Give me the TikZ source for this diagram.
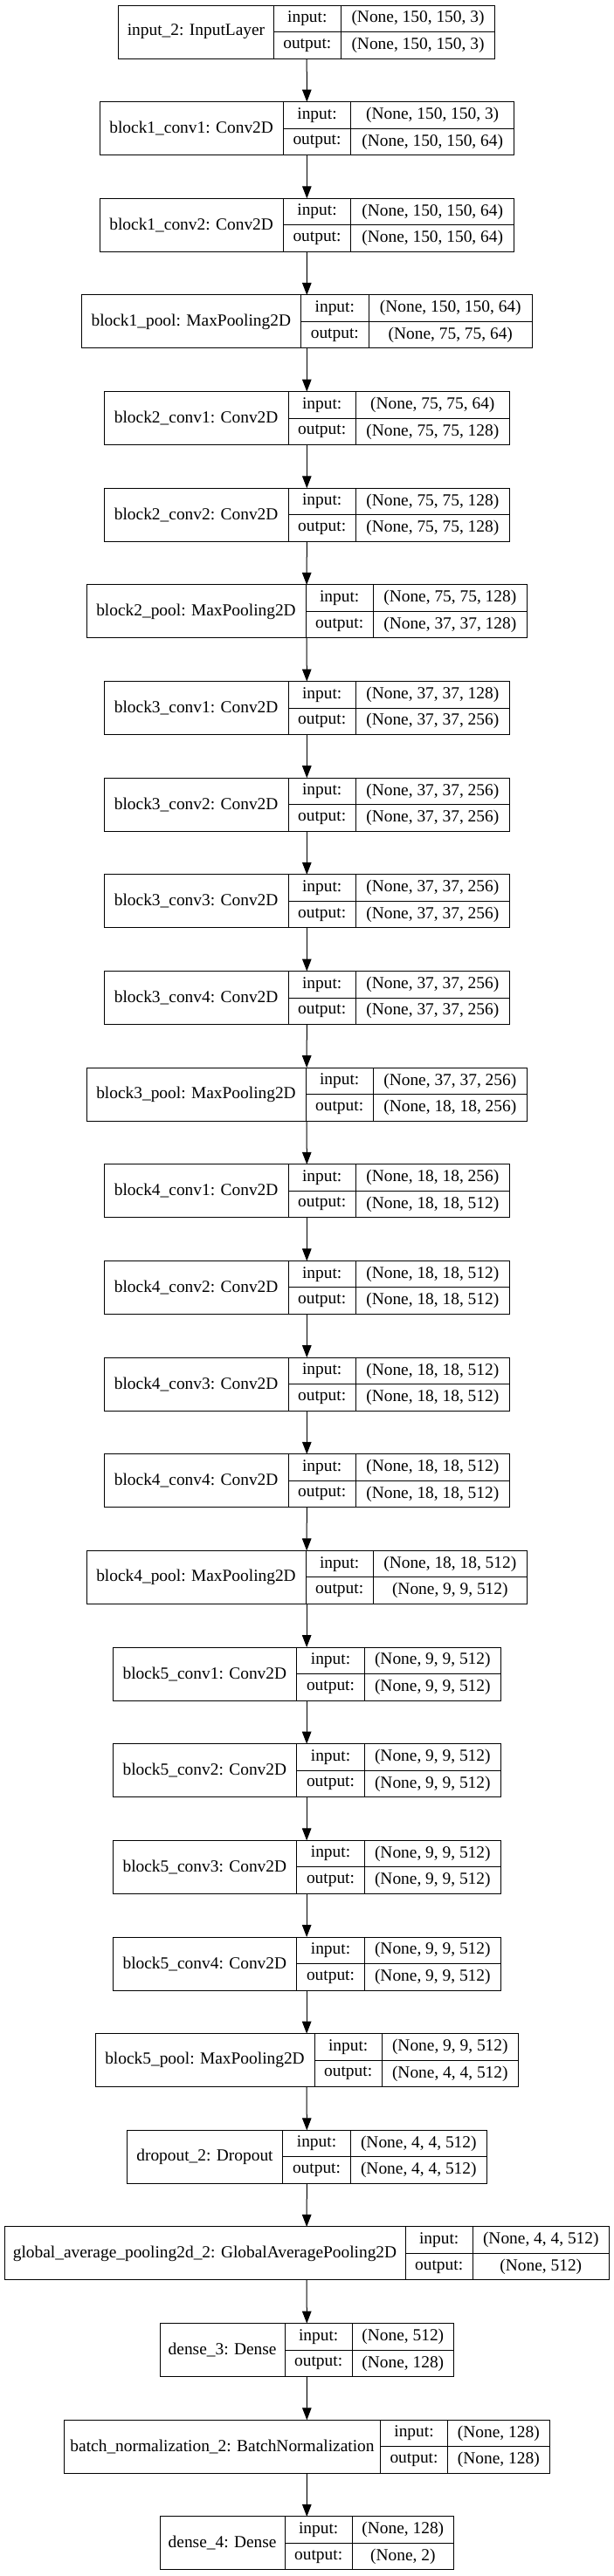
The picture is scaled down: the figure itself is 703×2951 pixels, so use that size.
\documentclass[tikz,border=0pt]{standalone}
\usepackage{fontspec}
\setmainfont{Liberation Serif}
\usetikzlibrary{arrows.meta}
\tikzset{
  frame/.style={draw=black, line width=1pt, inner sep=0pt, outer sep=0pt, rectangle},
  cell/.style={draw=black, line width=1pt, inner sep=0pt, outer sep=0pt, rectangle,
    font=\fontsize{19.4}{23}\selectfont},
  edge/.style={draw=black, line width=1pt, -{Triangle[length=14pt,width=10.5pt]}}
}
% #1 name, #2 index, #3 left, #4 split1, #5 split2, #6 right, #7 label, #8 input, #9 output
\newcommand{\layerbox}[9]{%
  \pgfmathsetmacro{\LyTop}{6+110.65*#2}%
  \pgfmathsetmacro{\LyMid}{\LyTop+30.5}%
  \pgfmathsetmacro{\LyUp}{\LyTop+15.25}%
  \pgfmathsetmacro{\LyLo}{\LyTop+45.75}%
  \node[frame, minimum width={(#6-#3)*1pt}, minimum height=61pt] (#1) at ({(#3+#6)/2},\LyMid) {};
  \node[cell, minimum width={(#4-#3)*1pt}, minimum height=61pt] (#1-name) at ({(#3+#4)/2},\LyMid) {#7};
  \node[cell, minimum width={(#5-#4)*1pt}, minimum height=30.5pt] (#1-i) at ({(#4+#5)/2},\LyUp) {input:};
  \node[cell, minimum width={(#5-#4)*1pt}, minimum height=30.5pt] (#1-o) at ({(#4+#5)/2},\LyLo) {output:};
  \node[cell, minimum width={(#6-#5)*1pt}, minimum height=30.5pt] (#1-iv) at ({(#5+#6)/2},\LyUp) {#8};
  \node[cell, minimum width={(#6-#5)*1pt}, minimum height=30.5pt] (#1-ov) at ({(#5+#6)/2},\LyLo) {#9};
}
\begin{document}
\begin{tikzpicture}[x=1pt,y=-1pt]
\fill[white] (0,0) rectangle (703,2951);
\useasboundingbox (0,0) rectangle (703,2951);
\layerbox{inp}{0}{135.7}{313.3}{390.3}{566.7}{input\_2: InputLayer}{(None, 150, 150, 3)}{(None, 150, 150, 3)}
\layerbox{bac}{1}{114}{324.3}{401.7}{588.7}{block1\_conv1: Conv2D}{(None, 150, 150, 3)}{(None, 150, 150, 64)}
\layerbox{bad}{2}{114}{324.3}{401.7}{588.7}{block1\_conv2: Conv2D}{(None, 150, 150, 64)}{(None, 150, 150, 64)}
\layerbox{bap}{3}{93.3}{344.3}{422.3}{609.3}{block1\_pool: MaxPooling2D}{(None, 150, 150, 64)}{(None, 75, 75, 64)}
\layerbox{bbc}{4}{119.3}{330}{407.3}{583.3}{block2\_conv1: Conv2D}{(None, 75, 75, 64)}{(None, 75, 75, 128)}
\layerbox{bbd}{5}{119.3}{330}{407.3}{583.3}{block2\_conv2: Conv2D}{(None, 75, 75, 128)}{(None, 75, 75, 128)}
\layerbox{bbp}{6}{99}{350}{427.3}{603.3}{block2\_pool: MaxPooling2D}{(None, 75, 75, 128)}{(None, 37, 37, 128)}
\layerbox{bcc}{7}{119.3}{330}{407.3}{583.3}{block3\_conv1: Conv2D}{(None, 37, 37, 128)}{(None, 37, 37, 256)}
\layerbox{bcd}{8}{119.3}{330}{407.3}{583.3}{block3\_conv2: Conv2D}{(None, 37, 37, 256)}{(None, 37, 37, 256)}
\layerbox{bce}{9}{119.3}{330}{407.3}{583.3}{block3\_conv3: Conv2D}{(None, 37, 37, 256)}{(None, 37, 37, 256)}
\layerbox{bcf}{10}{119.3}{330}{407.3}{583.3}{block3\_conv4: Conv2D}{(None, 37, 37, 256)}{(None, 37, 37, 256)}
\layerbox{bcp}{11}{99}{350}{427.3}{603.3}{block3\_pool: MaxPooling2D}{(None, 37, 37, 256)}{(None, 18, 18, 256)}
\layerbox{bdc}{12}{119.3}{330}{407.3}{583.3}{block4\_conv1: Conv2D}{(None, 18, 18, 256)}{(None, 18, 18, 512)}
\layerbox{bdd}{13}{119.3}{330}{407.3}{583.3}{block4\_conv2: Conv2D}{(None, 18, 18, 512)}{(None, 18, 18, 512)}
\layerbox{bde}{14}{119.3}{330}{407.3}{583.3}{block4\_conv3: Conv2D}{(None, 18, 18, 512)}{(None, 18, 18, 512)}
\layerbox{bdf}{15}{119.3}{330}{407.3}{583.3}{block4\_conv4: Conv2D}{(None, 18, 18, 512)}{(None, 18, 18, 512)}
\layerbox{bdp}{16}{99}{350}{427.3}{603.3}{block4\_pool: MaxPooling2D}{(None, 18, 18, 512)}{(None, 9, 9, 512)}
\layerbox{bec}{17}{129}{339.7}{417.3}{573.3}{block5\_conv1: Conv2D}{(None, 9, 9, 512)}{(None, 9, 9, 512)}
\layerbox{bed}{18}{129}{339.7}{417.3}{573.3}{block5\_conv2: Conv2D}{(None, 9, 9, 512)}{(None, 9, 9, 512)}
\layerbox{bee}{19}{129}{339.7}{417.3}{573.3}{block5\_conv3: Conv2D}{(None, 9, 9, 512)}{(None, 9, 9, 512)}
\layerbox{bef}{20}{129}{339.7}{417.3}{573.3}{block5\_conv4: Conv2D}{(None, 9, 9, 512)}{(None, 9, 9, 512)}
\layerbox{bep}{21}{109}{360}{437.3}{593.3}{block5\_pool: MaxPooling2D}{(None, 9, 9, 512)}{(None, 4, 4, 512)}
\layerbox{drop}{22}{145.3}{323.7}{401.3}{557.3}{dropout\_2: Dropout}{(None, 4, 4, 512)}{(None, 4, 4, 512)}
\layerbox{gap}{23}{5}{464}{541.3}{697.3}{global\_average\_pooling2d\_2: GlobalAveragePooling2D}{(None, 4, 4, 512)}{(None, 512)}
\layerbox{dthree}{24}{183.3}{326}{403.3}{519.3}{dense\_3: Dense}{(None, 512)}{(None, 128)}
\layerbox{bn}{25}{73.7}{435.3}{512.7}{629}{batch\_normalization\_2: BatchNormalization}{(None, 128)}{(None, 128)}
\layerbox{dfour}{26}{183.3}{326}{403.3}{519.3}{dense\_4: Dense}{(None, 128)}{(None, 2)}
\foreach \a/\b in {inp/bac,bac/bad,bad/bap,bap/bbc,bbc/bbd,bbd/bbp,bbp/bcc,bcc/bcd,bcd/bce,bce/bcf,bcf/bcp,bcp/bdc,bdc/bdd,bdd/bde,bde/bdf,bdf/bdp,bdp/bec,bec/bed,bed/bee,bee/bef,bef/bep,bep/drop,drop/gap,gap/dthree,dthree/bn,bn/dfour}
  \draw[edge] (\a.south) -- (\b.north);
\end{tikzpicture}
\end{document}
